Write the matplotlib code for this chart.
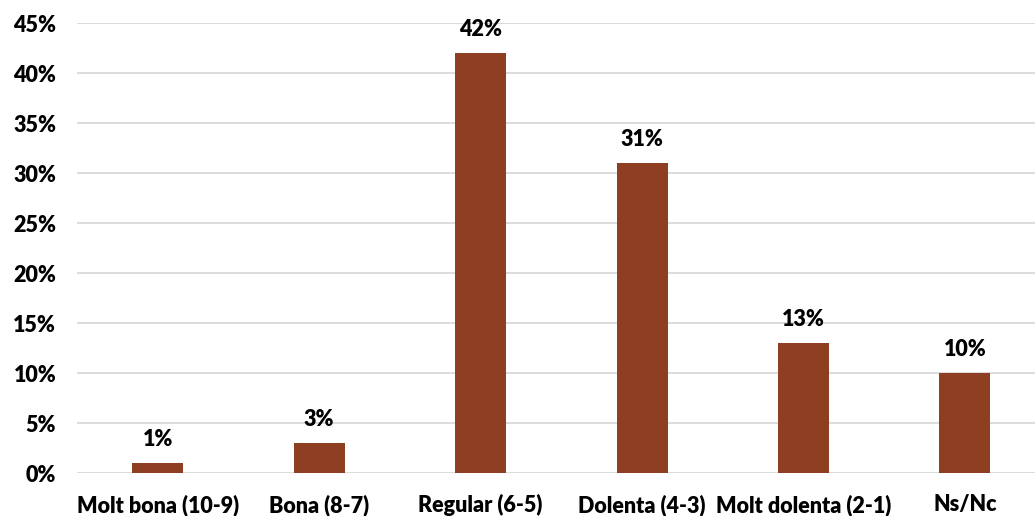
import matplotlib
matplotlib.use("Agg")
import matplotlib.pyplot as plt
from matplotlib.ticker import MultipleLocator, FuncFormatter

categories = ["Molt bona (10-9)", "Bona (8-7)", "Regular (6-5)", "Dolenta (4-3)", "Molt dolenta (2-1)", "Ns/Nc"]
values = [1, 3, 42, 31, 13, 10]

plt.rcParams['font.family'] = ['Lato', 'DejaVu Sans']
FS = 15.5
WT = 'heavy'
fig = plt.figure(figsize=(10.35, 5.16), dpi=100)
ax = fig.add_axes([77/1035, 43/516, 1 - 77/1035, 450/516])
x = list(range(len(categories)))
ax.bar(x, values, width=0.316, color="#8E3F22", zorder=3)
ax.set_xlim(-0.5, 5.434)
ax.set_ylim(0, 45)
ax.yaxis.set_major_locator(MultipleLocator(5))
ax.yaxis.set_major_formatter(FuncFormatter(lambda v, p: f"{int(round(v))}%"))
ax.grid(axis='y', color="#D9D9D9", linewidth=1.3, zorder=0)
for s in ax.spines.values():
    s.set_visible(False)
ax.tick_params(length=0)
ax.set_xticks(x)
ax.set_xticklabels(categories, fontsize=FS, fontweight=WT)
ax.tick_params(axis='x', pad=15)
ax.tick_params(axis='y', pad=15)
for lab in ax.get_yticklabels():
    lab.set_fontsize(FS)
    lab.set_fontweight(WT)
for xi, v in zip(x, values):
    ax.annotate(f"{v}%", (xi, v), xytext=(0, 9), textcoords='offset points',
                ha='center', va='bottom', fontsize=FS, fontweight=WT, color='black')
fig.savefig("out.png", dpi=100)
